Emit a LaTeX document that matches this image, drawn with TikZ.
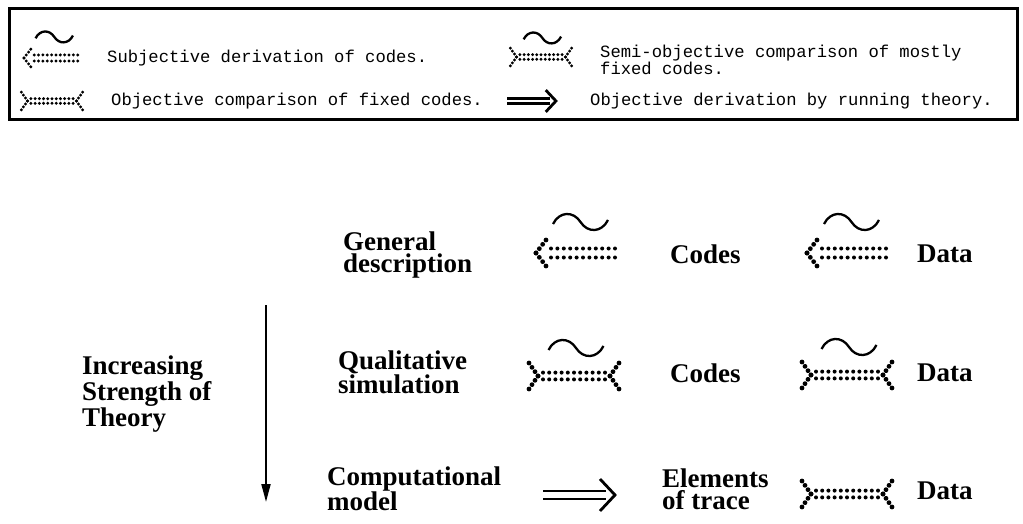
\documentclass[tikz,border=0pt]{standalone}
\usepackage{fontspec}
\setmainfont{Liberation Serif}
\setmonofont{Liberation Mono}
\usetikzlibrary{arrows.meta,positioning}

\tikzset{
  dot size/.store in=\dotsize, dot size=2pt,
  pics/wave/.style={code={
    \draw[line width=2.3pt] (-27.5,2) .. controls (-21,-11) and (-7,-11) .. (0,0)
      .. controls (7,11) and (21,11) .. (27.5,-2);
  }},
  pics/derive/.style={code={
    % dotted head
    \foreach \s in {0,1,2,3}{
      \fill (3.33*\s,-4.33*\s) circle[radius=2.4pt];
      \fill (3.33*\s,4.33*\s) circle[radius=2.4pt];}
    % double dotted shaft
    \foreach \i in {0,...,10}{
      \fill (15+6.4*\i,-4.5) circle[radius=\dotsize];
      \fill (15+6.4*\i,4.5) circle[radius=\dotsize];}
    \pic[transform shape] at (44.5,-31) {wave};
  }},
  pics/compare/.style={code={
    % dotted tails
    \foreach \s in {0,1,2,3}{
      \fill (-36-3*\s,-4.33*\s) circle[radius=2.4pt];
      \fill (-36-3*\s,4.33*\s) circle[radius=2.4pt];
      \fill (36+3*\s,-4.33*\s) circle[radius=2.4pt];
      \fill (36+3*\s,4.33*\s) circle[radius=2.4pt];}
    \foreach \i in {0,...,10}{
      \fill (-31+6.2*\i,-3.4) circle[radius=\dotsize];
      \fill (-31+6.2*\i,3.4) circle[radius=\dotsize];}
  }},
  pics/semicompare/.style={code={
    \pic[transform shape] {compare};
    \pic[transform shape] at (2,-28) {wave};
  }},
  pics/implies/.style={code={
    \draw[line width=2.8pt] (0,-4) -- (63,-4) (0,4) -- (63,4);
    \draw[line width=2.8pt] (57,-16) -- (72,0) -- (57,16);
  }}
}

\begin{document}
\begin{tikzpicture}[x=1pt, y=-1pt,
    lab/.style={font=\bfseries\fontsize{27}{22}\selectfont, align=left, anchor=west, inner sep=0pt},
    key/.style={font=\ttfamily\fontsize{17.2}{17}\selectfont, align=left, anchor=west, inner sep=0pt},
    small/.style={scale=0.68, dot size=2.4pt}]
    \useasboundingbox (0,0) rectangle (1023,524);

    % Legend
    \draw[line width=3pt] (9,9) rectangle (1017,120);
    \path (24,58) pic[small] {derive};
    \node[key] (k1) at (107,58) {Subjective derivation of codes.};
    \path (541,57) pic[small] {semicompare};
    \node[key] (k2) at (600,60) {Semi-objective comparison of mostly\\fixed codes.};
    \path (52,101) pic[small] {compare};
    \node[key] (k3) at (111,101) {Objective comparison of fixed codes.};
    \path (507,101) pic[small] {implies};
    \node[key] (k4) at (590,101) {Objective derivation by running theory.};

    % Levels of theory
    \node[lab] (gen) at (343,255) {General\\description};
    \node[lab] (qual) at (338,372) {Qualitative\\simulation};
    \node[lab] (comp) at (327,489) {Computational\\model};
    \node[lab] (incr) at (82,394) {Increasing\\Strength of\\Theory};

    % What each level yields
    \node[lab] (codes1) at (670,254) {Codes};
    \node[lab] (data1) at (917,254) {Data};
    \node[lab] (codes2) at (670,373) {Codes};
    \node[lab] (data2) at (917,373) {Data};
    \node[lab] (elem) at (662,489) {Elements\\of trace};
    \node[lab] (data3) at (917,491) {Data};

    % Symbols
    \path (536,253) pic {derive};
    \path (807,253) pic {derive};
    \path (574,376) pic {semicompare};
    \path (847,375) pic {semicompare};
    \path (543,495) pic {implies};
    \path (847,494) pic {compare};

    % Strength arrow
    \coordinate (up) at (266,305);
    \coordinate (down) at (266,502);
    \draw[line width=2pt, -{Triangle[length=18pt,width=9pt]}] (up) -- (down);
\end{tikzpicture}
\end{document}
